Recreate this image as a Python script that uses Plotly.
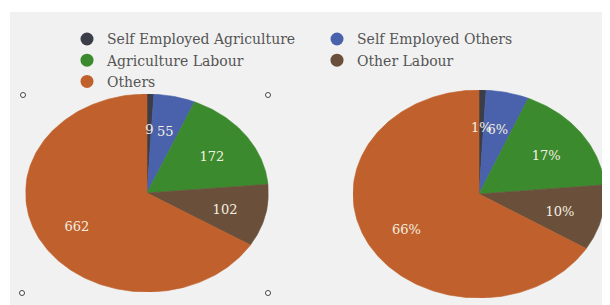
import numpy as np
import plotly.graph_objects as go

categories = ["Self Employed Agriculture", "Self Employed Others", "Agriculture Labour", "Other Labour", "Others"]
values = [9, 55, 172, 102, 662]
colors = ["#3b3d48", "#4a62ab", "#3c8a2e", "#6a4f3b", "#c0612d"]

# page is 610x305; the browser body adds an 8px margin, so the figure is 602x297
PW, PH, OFF = 610, 305, 8
W, H = PW - OFF, PH - OFF


def xp(px):
    return (px - OFF) / W


def yp(py):
    return (PH - py) / H


total = sum(values)
pct_labels = [f"{v / total * 100:.0f}%" for v in values]
val_labels = [str(v) for v in values]

fig = go.Figure()

# legend entries (circle swatches)
for name, col in zip(categories, colors):
    fig.add_trace(go.Scatter(x=[None], y=[None], mode="markers", name=name,
                             marker=dict(size=13, color=col), showlegend=True,
                             xaxis="x", yaxis="y"))


def add_pie(xa, ya, labels):
    cum = np.cumsum([0] + values) / total * 2 * np.pi
    tx, ty = [], []
    for i, v in enumerate(values):
        a0, a1 = cum[i], cum[i + 1]
        t = np.linspace(a0, a1, max(3, int((a1 - a0) / (2 * np.pi) * 360)))
        xs = np.concatenate([[0], np.sin(t), [0]])
        ys = np.concatenate([[0], np.cos(t), [0]])
        fig.add_trace(go.Scatter(x=xs, y=ys, mode="lines", fill="toself",
                                 fillcolor=colors[i], line=dict(color=colors[i], width=0.6),
                                 showlegend=False, hoverinfo="skip", xaxis=xa, yaxis=ya))
        am = (a0 + a1) / 2
        tx.append(0.66 * np.sin(am))
        ty.append(0.66 * np.cos(am) - 0.03)
    fig.add_trace(go.Scatter(x=tx, y=ty, mode="text", text=labels,
                             textfont=dict(family="DejaVu Serif", size=13, color="#f4efe0"),
                             showlegend=False, hoverinfo="skip", xaxis=xa, yaxis=ya))


add_pie("x", "y", val_labels)
add_pie("x2", "y2", pct_labels)

ax = dict(visible=False, range=[-1, 1], fixedrange=True)
fig.update_layout(
    width=W, height=H,
    margin=dict(l=0, r=0, t=0, b=0),
    paper_bgcolor="white", plot_bgcolor="rgba(0,0,0,0)",
    xaxis=dict(ax, domain=[xp(25.5), xp(268.5)]),
    yaxis=dict(ax, domain=[yp(292), yp(94)]),
    xaxis2=dict(ax, domain=[xp(353), xp(605)]),
    yaxis2=dict(ax, domain=[yp(298), yp(90)]),
    legend=dict(orientation="h", x=xp(67), xanchor="left", y=yp(23.4), yanchor="top",
                entrywidth=205, bgcolor="rgba(0,0,0,0)",
                font=dict(family="DejaVu Serif", size=14, color="#555555")),
    shapes=[dict(type="rect", xref="paper", yref="paper", x0=xp(10), x1=1, y0=0, y1=yp(12),
                 fillcolor="#f1f1f1", line=dict(width=0), layer="below")]
    + [dict(type="circle", xref="paper", yref="paper", xsizemode="pixel", ysizemode="pixel",
            xanchor=xp(px), yanchor=yp(py), x0=-2.5, x1=2.5, y0=-2.5, y1=2.5,
            line=dict(color="#444444", width=1), fillcolor="white", layer="above")
       for px, py in [(23, 95), (268, 95), (22, 293), (268, 293)]],
)

fig.write_html("out.html")
